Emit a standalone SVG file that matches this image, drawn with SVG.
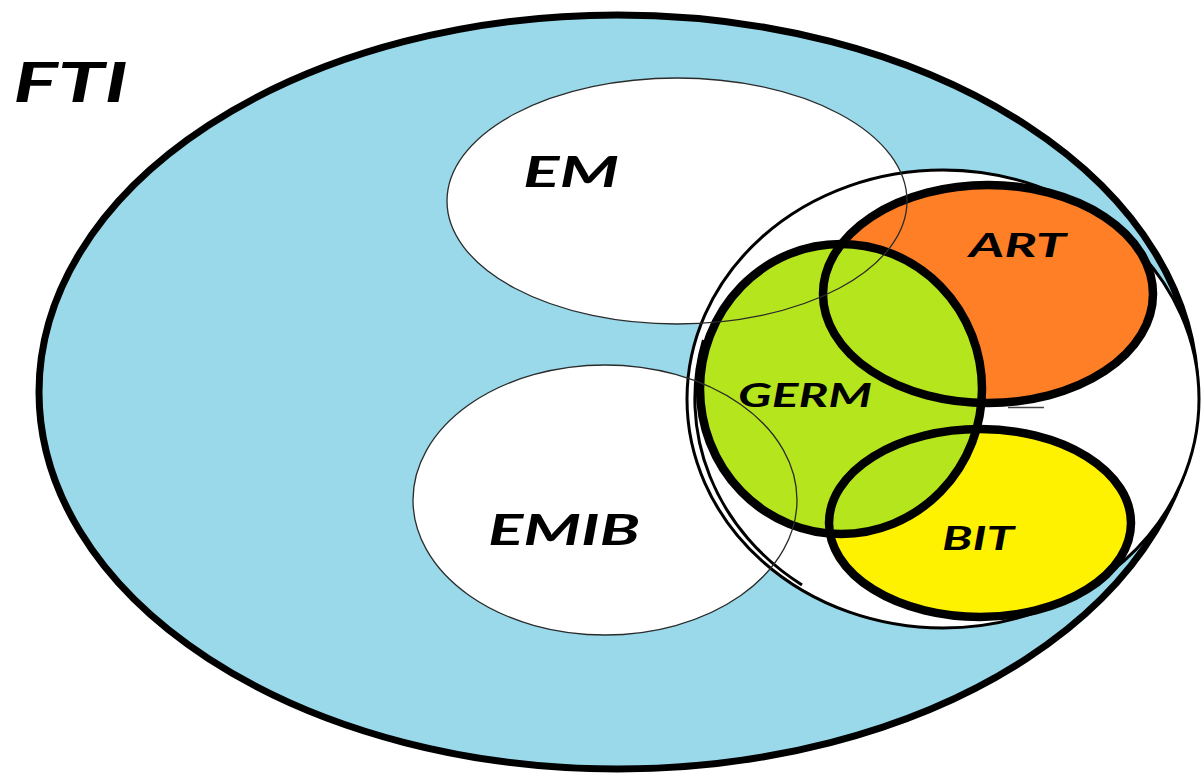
<svg xmlns="http://www.w3.org/2000/svg" width="1201" height="777" viewBox="0 0 1201 777">
  <style>
    .label { font-family: Lato, "Liberation Sans", "DejaVu Sans", sans-serif; font-weight: bold; font-style: italic; fill: #000; }
    .thin { fill: none; stroke: #2b2b2b; stroke-width: 1.3; }
    .heavy { fill: none; stroke: #000; stroke-width: 8.5; }
  </style>
  <rect width="1201" height="777" fill="#fff"/>

  <!-- outer set -->
  <g id="fti">
    <ellipse cx="617.5" cy="392" rx="578.5" ry="377" fill="#99D9EA" stroke="#000" stroke-width="7"/>
    <text class="label" x="13" y="102" font-size="56" textLength="115" lengthAdjust="spacingAndGlyphs">FTI</text>
  </g>

  <!-- white sub-sets -->
  <g id="em">
    <ellipse cx="677" cy="201" rx="230" ry="123" fill="#fff"/>
  </g>
  <g id="emib">
    <ellipse cx="605" cy="500" rx="192" ry="135" fill="#fff"/>
  </g>

  <!-- enclosing circle around GERM / ART / BIT, with its doubled left rim -->
  <g id="group-circle">
    <ellipse cx="943" cy="399" rx="256" ry="229" fill="#fff" stroke="#000" stroke-width="3"/>
    <path d="M 703.5 340 A 251 227 0 0 0 802 585" fill="none" stroke="#000" stroke-width="3"/>
  </g>

  <!-- fills first, outlines afterwards so every border stays visible -->
  <g id="art">
    <ellipse cx="988" cy="294" rx="165" ry="109" fill="#FF7F27"/>
  </g>
  <g id="bit">
    <ellipse cx="980" cy="523" rx="151" ry="94" fill="#FFF200"/>
  </g>
  <g id="germ">
    <ellipse cx="841" cy="389" rx="141" ry="145" fill="#B5E61D"/>
  </g>

  <g id="outlines">
    <ellipse class="heavy" cx="988" cy="294" rx="165" ry="109"/>
    <ellipse class="heavy" cx="980" cy="523" rx="151" ry="94"/>
    <ellipse class="heavy" cx="841" cy="389" rx="141" ry="145"/>
    <ellipse class="thin" cx="677" cy="201" rx="230" ry="123"/>
    <ellipse class="thin" cx="605" cy="500" rx="192" ry="135"/>
    <line x1="1008" y1="407.5" x2="1044" y2="407.5" stroke="#444" stroke-width="1.5"/>
  </g>

  <g id="labels">
    <text class="label" x="523" y="187" font-size="42" textLength="96" lengthAdjust="spacingAndGlyphs">EM</text>
    <text class="label" x="488" y="545" font-size="42" textLength="152" lengthAdjust="spacingAndGlyphs">EMIB</text>
    <text class="label" x="969" y="257" font-size="33" textLength="97" lengthAdjust="spacingAndGlyphs">ART</text>
    <text class="label" x="738" y="407" font-size="32" textLength="134" lengthAdjust="spacingAndGlyphs">GERM</text>
    <text class="label" x="942" y="550" font-size="32" textLength="72" lengthAdjust="spacingAndGlyphs">BIT</text>
  </g>
</svg>
